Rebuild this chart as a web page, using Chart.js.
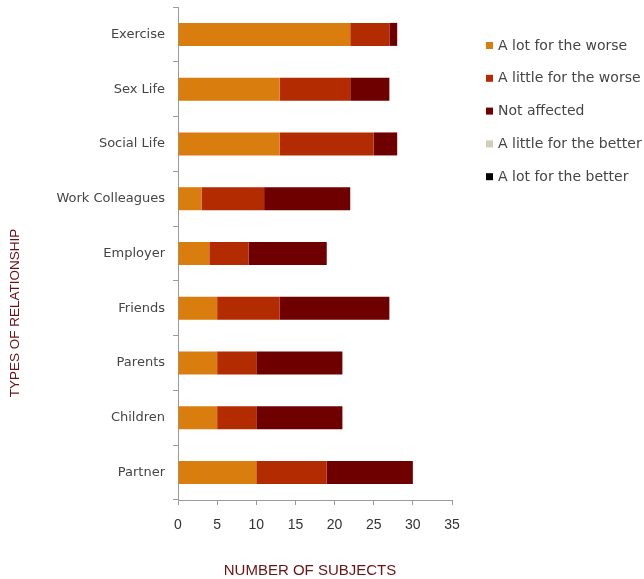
<!DOCTYPE html>
<html>
<head>
<meta charset="utf-8">
<script src="https://cdn.jsdelivr.net/npm/chart.js@4.4.0/dist/chart.umd.min.js"></script>
<style>
html,body{margin:0;padding:0;background:#fff;}
#wrap{width:644px;height:579px;position:relative;}
</style>
</head>
<body>
<div id="wrap"><canvas id="c" width="644" height="579"></canvas></div>
<script>
const categories = ["Exercise","Sex Life","Social Life","Work Colleagues","Employer","Friends","Parents","Children","Partner"];
const seriesNames = ["A lot for the worse","A little for the worse","Not affected","A little for the better","A lot for the better"];
const aLotWorse    = [22, 13, 13, 3, 4, 5, 5, 5, 10];
const aLittleWorse = [5, 9, 12, 8, 5, 8, 5, 5, 9];
const notAffected  = [1, 5, 3, 11, 10, 14, 11, 11, 11];
const aLittleBetter= [0, 0, 0, 0, 0, 0, 0, 0, 0];
const aLotBetter   = [0, 0, 0, 0, 0, 0, 0, 0, 0];
const xTicks = [0, 5, 10, 15, 20, 25, 30, 35];
const colors = ["#D97D0E", "#B32B00", "#6E0000", "#D3CDB3", "#000000"];
const yTitle = "TYPES OF RELATIONSHIP";
const xTitle = "NUMBER OF SUBJECTS";

const seriesValues = [aLotWorse, aLittleWorse, notAffected, aLittleBetter, aLotBetter];

const datasets = seriesNames.map((n, i) => ({
  label: n,
  data: seriesValues[i],
  backgroundColor: colors[i],
  borderWidth: 0,
  barPercentage: 0.42,
  categoryPercentage: 1.0
}));

const customLegendAndTitles = {
  id: 'customLegendAndTitles',
  afterDraw(chart) {
    const ctx = chart.ctx;
    ctx.save();
    // legend
    ctx.font = '14px "DejaVu Sans"';
    ctx.textBaseline = 'middle';
    ctx.textAlign = 'left';
    chart.data.datasets.forEach((ds, i) => {
      const y = 46 + i * 32.8;
      ctx.fillStyle = ds.backgroundColor;
      ctx.fillRect(486, y - 4, 7, 7);
      ctx.fillStyle = '#454545';
      ctx.fillText(ds.label, 498, y);
    });
    // axis titles
    ctx.fillStyle = '#6B1214';
    ctx.font = '15px "Liberation Sans"';
    ctx.textAlign = 'center';
    ctx.fillText(xTitle, 310, 571);
    ctx.font = '13.5px "Liberation Sans"';
    ctx.translate(15, 313);
    ctx.rotate(-Math.PI / 2);
    ctx.fillText(yTitle, 0, 0);
    ctx.restore();
  }
};

new Chart(document.getElementById('c'), {
  type: 'bar',
  data: { labels: categories, datasets: datasets },
  options: {
    indexAxis: 'y',
    responsive: false,
    animation: false,
    devicePixelRatio: 1,
    layout: { padding: { top: 7, right: 192, left: 0, bottom: 0 } },
    plugins: { legend: { display: false }, tooltip: { enabled: false } },
    scales: {
      x: {
        stacked: true,
        min: 0, max: 35,
        afterBuildTicks(scale) { scale.ticks = xTicks.map(v => ({ value: v })); },
        ticks: { color: '#333333', font: { family: '"Liberation Sans"', size: 14 }, padding: 12 },
        grid: { display: true, drawOnChartArea: false, tickLength: 5, color: '#9A9A9A' },
        border: { display: true, color: '#9A9A9A', width: 1 },
        afterFit(scale) { scale.height = 79; scale.paddingLeft = 0; scale.paddingRight = 0; }
      },
      y: {
        stacked: true,
        ticks: { color: '#454545', font: { family: '"DejaVu Sans"', size: 13 }, padding: 8 },
        grid: { display: true, offset: true, drawOnChartArea: false, tickLength: 5, color: '#9A9A9A' },
        border: { display: true, color: '#9A9A9A', width: 1 },
        afterFit(scale) { scale.width = 178; scale.paddingTop = 0; scale.paddingBottom = 0; }
      }
    }
  },
  plugins: [customLegendAndTitles]
});
</script>
</body>
</html>
